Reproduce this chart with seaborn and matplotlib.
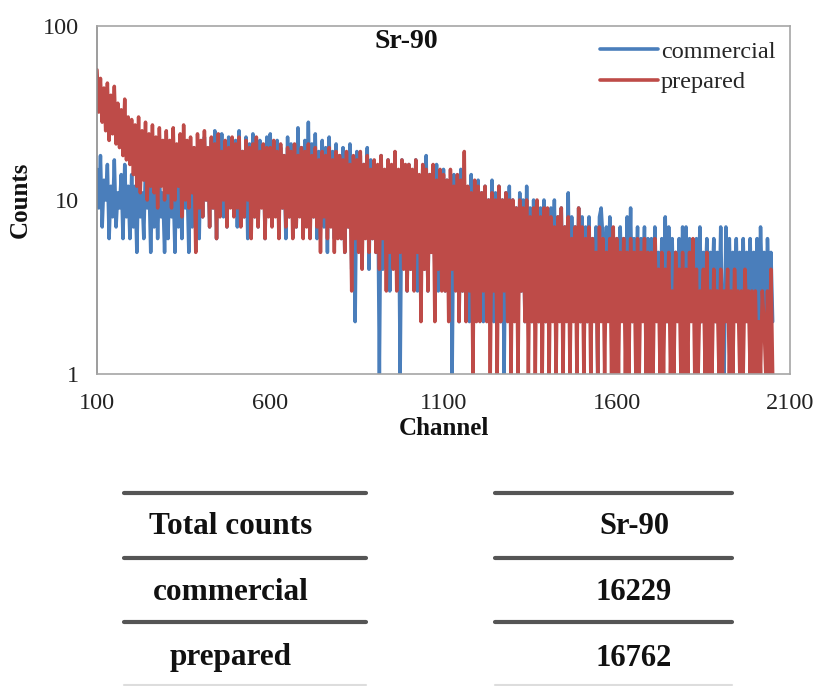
import numpy as np
import pandas as pd
import matplotlib
matplotlib.use("Agg")
import matplotlib.pyplot as plt
from matplotlib.lines import Line2D
import seaborn as sns

# ---- data (every 5 channels) ----
channels = list(range(100, 2051, 5))

commercial = [
    15, 9, 18, 7, 13, 10, 16, 6, 12, 8, 17, 7, 11, 9, 14, 6, 16, 8, 12, 6,
    14, 7, 12, 5, 15, 8, 11, 6, 16, 9, 13, 5, 12, 7, 15, 6, 14, 8, 11, 5,
    13, 6, 15, 8, 12, 5, 17, 7, 14, 6, 18, 9, 13, 5, 16, 7, 20, 8, 15, 6,
    21, 8, 23, 10, 18, 7, 22, 9, 25, 6, 19, 11, 24, 8, 20, 7, 23, 10, 18, 9,
    22, 7, 25, 9, 19, 8, 23, 6, 21, 10, 24, 8, 18, 7, 22, 11, 20, 6, 23, 9,
    24, 8, 19, 10, 22, 7, 20, 9, 18, 6, 23, 8, 21, 11, 19, 7, 26, 9, 20, 8,
    22, 9, 28, 7, 21, 8, 24, 6, 19, 10, 22, 7, 20, 5, 23, 8, 19, 6, 21, 7,
    18, 6, 20, 5, 17, 7, 21, 4, 16, 2, 19, 6, 18, 5, 16, 7, 20, 4, 17, 6,
    16, 5, 15, 1, 18, 4, 14, 6, 17, 3, 15, 5, 16, 4, 13, 1, 17, 5, 15, 3,
    16, 4, 14, 6, 17, 3, 13, 5, 15, 4, 18, 3, 14, 5, 12, 4, 16, 3, 13, 5,
    15, 3, 13, 5, 12, 1, 14, 4, 13, 2, 15, 3, 12, 4, 11, 2, 14, 3, 12, 4,
    13, 3, 11, 2, 12, 4, 10, 3, 13, 2, 11, 3, 12, 2, 10, 1, 11, 3, 12, 2,
    10, 3, 9, 2, 11, 3, 10, 2, 12, 3, 9, 2, 10, 3, 8, 2, 9, 3, 10, 2,
    8, 2, 9, 3, 10, 2, 8, 3, 9, 2, 7, 3, 11, 2, 8, 3, 7, 2, 9, 2,
    8, 3, 7, 2, 8, 2, 6, 3, 7, 1, 8, 9, 6, 2, 7, 3, 8, 2, 6, 3,
    6, 2, 7, 3, 6, 2, 8, 3, 9, 2, 6, 3, 7, 2, 6, 3, 7, 2, 6, 3,
    6, 2, 7, 3, 5, 2, 6, 3, 8, 2, 7, 3, 6, 2, 5, 3, 6, 2, 7, 3,
    7, 2, 6, 3, 5, 2, 6, 3, 7, 2, 5, 3, 6, 2, 5, 3, 6, 2, 5, 2,
    7, 2, 1, 7, 3, 6, 2, 5, 3, 6, 2, 5, 3, 6, 2, 5, 3, 6, 2, 5,
    3, 6, 2, 7, 3, 5, 2, 6, 3, 5, 2,
]

prepared = [
    56, 32, 50, 28, 44, 25, 47, 22, 40, 24, 45, 21, 36, 20, 33, 18, 38, 17, 30, 16,
    29, 14, 27, 12, 30, 11, 25, 13, 28, 10, 24, 12, 27, 11, 23, 9, 26, 12, 22, 10,
    25, 11, 22, 9, 26, 10, 21, 12, 24, 8, 27, 10, 22, 9, 23, 11, 20, 5, 24, 9,
    22, 8, 25, 10, 20, 7, 23, 9, 21, 6, 24, 8, 19, 10, 22, 7, 20, 9, 23, 8,
    21, 9, 23, 7, 19, 8, 22, 10, 20, 6, 21, 8, 23, 7, 19, 9, 21, 6, 20, 8,
    20, 7, 22, 8, 19, 6, 21, 9, 18, 7, 20, 8, 19, 6, 21, 7, 18, 8, 20, 6,
    19, 7, 21, 6, 18, 8, 20, 7, 17, 5, 19, 8, 18, 6, 20, 7, 17, 5, 19, 6,
    18, 6, 17, 5, 19, 7, 16, 3, 18, 6, 17, 5, 19, 4, 16, 6, 18, 5, 15, 6,
    17, 5, 16, 4, 18, 6, 15, 3, 17, 5, 16, 4, 19, 3, 15, 5, 17, 4, 16, 3,
    16, 4, 15, 3, 17, 5, 14, 2, 16, 4, 15, 3, 14, 5, 16, 2, 13, 4, 15, 3,
    14, 3, 13, 2, 15, 4, 12, 3, 14, 2, 13, 3, 19, 2, 12, 3, 11, 1, 13, 2,
    12, 2, 11, 3, 12, 2, 10, 1, 11, 3, 10, 1, 12, 2, 10, 3, 11, 2, 10, 1,
    10, 2, 9, 1, 10, 3, 9, 2, 10, 1, 8, 2, 9, 1, 10, 2, 8, 1, 9, 2,
    9, 1, 8, 2, 7, 1, 8, 2, 9, 1, 7, 2, 8, 1, 6, 2, 7, 1, 9, 2,
    7, 1, 6, 2, 7, 1, 6, 2, 5, 1, 7, 2, 6, 1, 5, 2, 6, 1, 7, 1,
    6, 1, 5, 2, 6, 1, 5, 1, 6, 2, 5, 1, 6, 1, 5, 2, 6, 1, 5, 1,
    5, 1, 6, 2, 4, 1, 5, 1, 4, 2, 5, 1, 3, 1, 5, 2, 4, 1, 5, 1,
    4, 1, 5, 2, 6, 1, 4, 1, 3, 2, 4, 1, 5, 1, 3, 1, 4, 2, 3, 1,
    4, 1, 3, 2, 4, 1, 3, 1, 4, 2, 3, 1, 3, 1, 4, 2, 3, 1, 3, 1,
    3, 1, 2, 1, 3, 2, 1, 3, 1, 4, 1,
]

series_names = ["commercial", "prepared"]
series_colors = ["#4A7EBB", "#BE4B48"]
x_ticks = [100, 600, 1100, 1600, 2100]
y_ticks = [1, 10, 100]
title = "Sr-90"

table_header = ["Total counts", "Sr-90"]
table_rows = [["commercial", "16229"], ["prepared", "16762"]]

# ---- build long frame ----
df = pd.concat([
    pd.DataFrame({"Channel": channels, "Counts": commercial, "Sample": "commercial"}),
    pd.DataFrame({"Channel": channels, "Counts": prepared, "Sample": "prepared"}),
], ignore_index=True)

sns.set_theme(style="white")
plt.rcParams["font.family"] = ["Liberation Serif", "DejaVu Serif"]

W, H = 816, 686
fig = plt.figure(figsize=(W / 100, H / 100), dpi=100)
ax = fig.add_axes([97 / W, 1 - 374 / H, (790 - 97) / W, (374 - 26) / H])

sns.lineplot(data=df, x="Channel", y="Counts", hue="Sample",
             hue_order=series_names, palette=dict(zip(series_names, series_colors)),
             estimator=None, sort=False, linewidth=2.5, ax=ax, legend=False)

ax.set_yscale("log")
ax.set_ylim(1, 100)
ax.set_xlim(100, 2100)
ax.set_xticks(x_ticks)
ax.set_xticklabels([str(t) for t in x_ticks])
ax.set_yticks(y_ticks)
ax.set_yticklabels([str(t) for t in y_ticks])
ax.yaxis.set_minor_locator(matplotlib.ticker.NullLocator())

for s in ax.spines.values():
    s.set_visible(True)
    s.set_color("#A6A6A6")
    s.set_linewidth(1.2)
ax.spines["left"].set_color("#8C8C8C")

ax.tick_params(axis="both", which="major", direction="out", length=6,
               width=1, color="#A6A6A6", labelsize=17.5, labelcolor="#222222")
ax.tick_params(axis="y", pad=7)
ax.tick_params(axis="x", pad=8)

ax.set_xlabel("Channel", fontsize=18, fontweight="bold", color="#111111", labelpad=2)
ax.set_ylabel("Counts", fontsize=18, fontweight="bold", color="#111111", labelpad=8)

fig.text(406 / W, 1 - 41 / H, title, ha="center", va="center",
         fontsize=20, fontweight="bold", color="#111111")

handles = [Line2D([0], [0], color=c, lw=2.6) for c in series_colors]
leg = ax.legend(handles, series_names, loc="upper right", frameon=False,
                fontsize=17.5, handlelength=2.4, handletextpad=0.1,
                labelspacing=0.35, borderaxespad=0.2,
                bbox_to_anchor=(1.0, 1.0))

# ---- table below the chart ----
line_y = [493, 558, 622]
left_x = (124, 366)
right_x = (495, 732)
for y in line_y:
    for x0, x1 in (left_x, right_x):
        fig.add_artist(Line2D([x0 / W, x1 / W], [1 - y / H, 1 - y / H],
                              transform=fig.transFigure, color="#555555", lw=3.0))
for x0, x1 in (left_x, right_x):
    fig.add_artist(Line2D([x0 / W, x1 / W], [1 - 685 / H, 1 - 685 / H],
                          transform=fig.transFigure, color="#DDDDDD", lw=1.5))

row_y = [527, 593, 658]
cells = [table_header] + table_rows
for (c0, c1), y in zip(cells, row_y):
    fig.text(231 / W, 1 - y / H, c0, ha="center", va="center",
             fontsize=22.5, fontweight="bold", color="#111111")
    fig.text(634 / W, 1 - y / H, c1, ha="center", va="center",
             fontsize=22, fontweight="bold", color="#111111")

fig.savefig("out.png", dpi=100)
